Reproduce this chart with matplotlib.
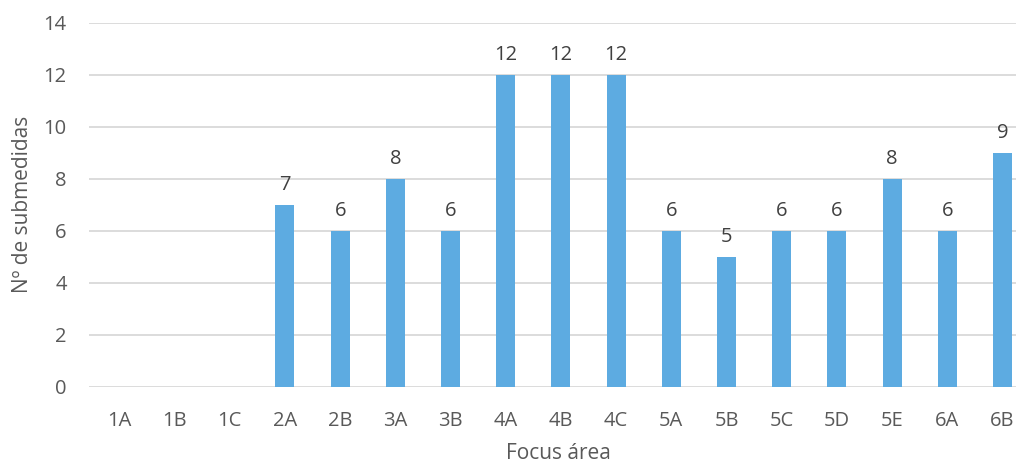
import matplotlib
matplotlib.use('Agg')
import matplotlib.pyplot as plt

# datos
areas = ['1A', '1B', '1C', '2A', '2B', '3A', '3B', '4A', '4B', '4C',
         '5A', '5B', '5C', '5D', '5E', '6A', '6B']
submedidas = [0, 0, 0, 7, 6, 8, 6, 12, 12, 12, 6, 5, 6, 6, 8, 6, 9]

plt.rcParams['font.family'] = ['Open Sans', 'DejaVu Sans']
gris = '#595959'

fig = plt.figure(figsize=(10.16, 4.66), dpi=100)
ax = fig.add_axes([89 / 1016, 79 / 466, 938.4 / 1016, 364.5 / 466])

x = list(range(len(areas)))
bars = ax.bar(x, submedidas, width=0.345, color='#5DABE1', zorder=3)

# etiquetas de valor (sin mostrar los ceros)
for xi, v in zip(x, submedidas):
    if v > 0:
        ax.text(xi, v + 0.38, str(v), ha='center', va='bottom',
                fontsize=14.5, color='#404040')

ax.set_xlim(-0.55, 16.45)
ax.set_ylim(0, 14)
ax.set_yticks(range(0, 15, 2))
ax.set_xticks(x)
ax.set_xticklabels(areas)
ax.tick_params(axis='both', length=0, labelsize=14.5, labelcolor=gris)
ax.tick_params(axis='x', pad=17)
ax.tick_params(axis='y', pad=16)

ax.grid(axis='y', color='#D9D9D9', linewidth=1.3, zorder=0)
for s in ax.spines.values():
    s.set_visible(False)

ax.set_xlabel('Focus área', fontsize=15, color=gris, labelpad=9)
ax.set_ylabel('Nº de submedidas', fontsize=15, color=gris, labelpad=8)

fig.savefig('out.png', dpi=100)
